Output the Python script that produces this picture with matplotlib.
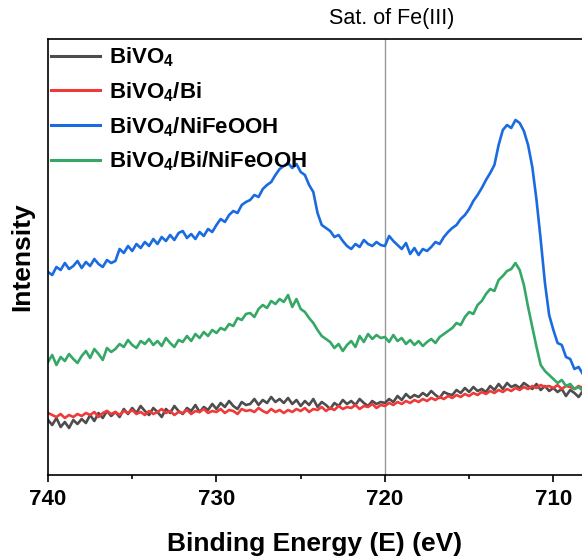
import numpy as np
import matplotlib
matplotlib.use('Agg')
from matplotlib import pyplot as plt
from matplotlib.ticker import MultipleLocator

plt.rcParams['font.family'] = ['Liberation Sans', 'DejaVu Sans']
plt.rcParams['mathtext.fontset'] = 'custom'
plt.rcParams['mathtext.rm'] = 'Liberation Sans'
plt.rcParams['mathtext.bf'] = 'Liberation Sans:bold'

# binding energy grid (eV), 0.25 eV steps
energy = 740 - 0.25 * np.arange(128)

# intensities (a.u.)
bivo4 = [55, 50, 57, 48, 53, 47, 55, 51,
         56, 52, 60, 54, 62, 57, 64, 59,
         63, 58, 66, 61, 67, 62, 69, 64,
         60, 67, 63, 58, 66, 62, 69, 64,
         61, 67, 64, 70, 63, 68, 65, 71,
         66, 72, 68, 74, 69, 66, 73, 70,
         71, 76, 70, 75, 72, 78, 73, 76,
         72, 77, 71, 75, 69, 74, 70, 76,
         68, 73, 70, 66, 72, 69, 75, 71,
         74, 70, 76, 72, 69, 74, 71, 73,
         72, 76, 73, 79, 75, 81, 77, 80,
         78, 82, 79, 84, 80, 77, 83, 81,
         80, 85, 82, 87, 83, 88, 84, 86,
         83, 89, 85, 91, 86, 92, 88, 90,
         87, 92, 89, 86, 91, 85, 89, 84,
         87, 83, 86, 79, 85, 82, 78, 84]

bivo4_bi = [62, 60, 58, 61, 57, 60, 58, 61,
            59, 62, 60, 63, 58, 62, 64, 61,
            63, 60, 64, 62, 65, 61, 63, 60,
            64, 61, 63, 66, 62, 64, 60, 63,
            62, 65, 61, 64, 63, 66, 62, 64,
            63, 66, 62, 65, 64, 61, 66, 64,
            65, 63, 67, 64, 62, 66, 63, 65,
            62, 65, 63, 66, 64, 67, 63, 66,
            65, 68, 64, 67, 65, 69, 66, 68,
            67, 70, 66, 69, 68, 71, 67, 70,
            69, 72, 70, 73, 71, 74, 72, 75,
            73, 76, 74, 77, 75, 78, 76, 79,
            77, 80, 78, 81, 79, 82, 80, 83,
            81, 84, 82, 85, 83, 86, 84, 87,
            85, 88, 86, 89, 87, 90, 88, 89,
            87, 90, 86, 89, 88, 86, 89, 87]

bivo4_nifeooh = [203, 200, 208, 205, 212, 206, 209, 214,
                 207, 213, 209, 216, 211, 208, 215, 212,
                 214, 226, 222, 229, 224, 231, 227, 233,
                 229, 236, 231, 238, 234, 240, 235, 242,
                 244, 237, 241, 236, 243, 239, 246, 243,
                 250, 256, 253, 260, 264, 262, 270, 273,
                 275, 280, 278, 286, 290, 293, 300, 306,
                 309, 312, 307, 311, 303, 300, 290, 283,
                 262, 250, 247, 244, 238, 240, 234, 229,
                 226, 231, 228, 235, 231, 229, 233, 230,
                 229, 239, 234, 230, 226, 232, 221, 227,
                 220, 226, 224, 228, 233, 231, 238, 243,
                 247, 250, 256, 260, 266, 274, 280, 287,
                 295, 302, 310, 330, 345, 350, 347, 355,
                 352, 344, 330, 308, 275, 235, 192, 160,
                 145, 132, 130, 118, 116, 106, 108, 101]

bivo4_bi_nifeooh = [113, 120, 110, 118, 114, 121, 116, 112,
                    119, 124, 117, 126, 121, 115, 127, 123,
                    126, 131, 128, 135, 130, 127, 134, 131,
                    136, 130, 134, 129, 137, 132, 128, 135,
                    133, 139, 134, 141, 137, 143, 139, 145,
                    142, 147, 145, 151, 149, 157, 155, 161,
                    162, 158, 166, 170, 167, 174, 171, 176,
                    173, 180, 168, 176, 166, 163, 157, 152,
                    145, 139, 136, 133, 127, 131, 124, 130,
                    134, 128, 139, 133, 141, 136, 140, 137,
                    138, 133, 140, 134, 137, 131, 135, 130,
                    134, 129, 133, 136, 132, 138, 141, 144,
                    147, 152, 150, 158, 163, 161, 170, 174,
                    181, 186, 184, 195, 199, 204, 206, 212,
                    205, 190, 168, 148, 128, 110, 104, 100,
                    96, 92, 95, 89, 91, 86, 88, 84]

series = [
    (bivo4, r'BiVO$_\mathbf{4}$', '#4d4d4d'),
    (bivo4_bi, r'BiVO$_\mathbf{4}$/Bi', '#f03a3a'),
    (bivo4_nifeooh, r'BiVO$_\mathbf{4}$/NiFeOOH', '#1a6be0'),
    (bivo4_bi_nifeooh, r'BiVO$_\mathbf{4}$/Bi/NiFeOOH', '#35a866'),
]

fig = plt.figure(figsize=(5.82, 5.57), dpi=100)
ax = fig.add_axes([48 / 582, 82 / 557, 534 / 582, 436 / 557])

for y, label, color in series:
    ax.plot(energy, y, color=color, lw=1.9, label=label)

ax.axvline(720, color='#999999', lw=1.0, zorder=0)
ax.text(719.6, 446, 'Sat. of Fe(III)', ha='center', va='bottom', fontsize=15.5)

ax.set_xlim(740, 708.3)
ax.set_ylim(0, 436)
ax.xaxis.set_major_locator(MultipleLocator(10))
ax.xaxis.set_minor_locator(MultipleLocator(5))
ax.set_yticks([])
ax.spines['right'].set_visible(False)
for s in ['left', 'bottom', 'top']:
    ax.spines[s].set_linewidth(1.2)
ax.tick_params(axis='x', which='major', direction='out', length=5, width=1.2,
               labelsize=16, pad=5)
ax.tick_params(axis='x', which='minor', direction='out', length=3, width=1.2)
for t in ax.get_xticklabels():
    t.set_fontweight('bold')

ax.set_xlabel('Binding Energy (E) (eV)', fontsize=19, fontweight='bold', labelpad=16)
ax.set_ylabel('Intensity', fontsize=19, fontweight='bold', labelpad=10)

leg = ax.legend(loc='upper left', bbox_to_anchor=(0.006, 0.985), frameon=False,
                prop={'weight': 'bold', 'size': 16}, handlelength=2.2,
                handletextpad=0.4, labelspacing=0.5, borderpad=0, borderaxespad=0)
for line in leg.get_lines():
    line.set_linewidth(2.2)

fig.savefig('out.png', dpi=100)
